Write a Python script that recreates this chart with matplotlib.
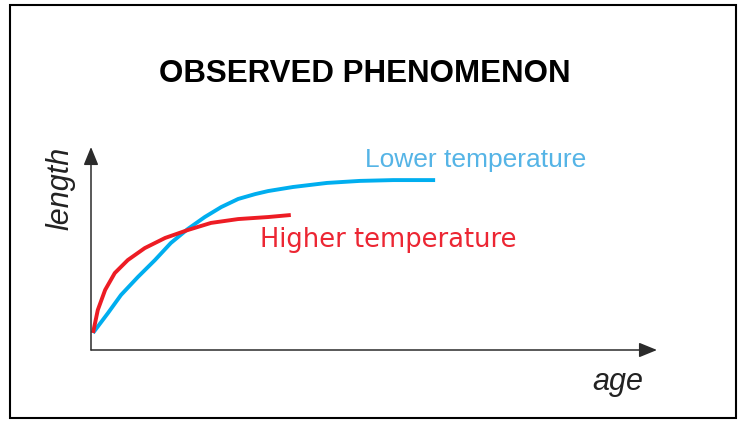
#!/usr/bin/env python3
"""Schematic: length vs age at two temperatures (observed phenomenon)."""

import matplotlib.pyplot as plt
from matplotlib.patches import Rectangle

# Curves, age and length on a 0-100 scale.
lower_age = [0.35, 3.0, 5.3, 8.3, 11.3, 14.1, 17.1, 20.1, 23.0, 26.0, 29.0,
             31.3, 35.7, 41.7, 47.5, 53.4, 60.8]
lower_len = [8.4, 18.2, 27.1, 36.0, 44.3, 52.7, 59.6, 65.5, 70.4, 74.4, 76.8,
             78.3, 80.3, 82.3, 83.3, 83.7, 83.7]

higher_age = [0.35, 1.2, 2.5, 4.2, 6.5, 9.5, 13.1, 17.1, 21.2, 26.0, 31.3, 35.3]
higher_len = [8.4, 19.7, 29.6, 37.9, 44.3, 50.2, 55.2, 59.1, 62.6, 64.5, 65.5, 66.5]

title = "OBSERVED PHENOMENON"
lower_label = "Lower temperature"
higher_label = "Higher temperature"

W, H = 745, 421
fig = plt.figure(figsize=(W / 100, H / 100), dpi=100)

# Outer frame around the whole picture.
fig.patches.append(Rectangle((10 / W, 3 / H), 726 / W, 413 / H, transform=fig.transFigure,
                             fill=False, edgecolor="black", linewidth=1.5))

ax = fig.add_axes([91 / W, 71 / H, 566 / W, 203 / H])
ax.set_xlim(0, 100)
ax.set_ylim(0, 100)
ax.axis("off")

# Axis arrows.
arrow = dict(arrowstyle="-|>,head_length=1.1,head_width=0.45", mutation_scale=10,
             lw=1.1, color="#2b2b2b", shrinkA=0, shrinkB=0)
ax.annotate("", xy=(1, 0), xytext=(0, 0), xycoords="axes fraction", arrowprops=arrow)
ax.annotate("", xy=(0, 1), xytext=(0, 0), xycoords="axes fraction", arrowprops=arrow)

ax.plot(lower_age, lower_len, color="#00aeef", lw=2.8, solid_capstyle="butt",
        solid_joinstyle="round", clip_on=False)
ax.plot(higher_age, higher_len, color="#ed1c24", lw=2.8, solid_capstyle="butt",
        solid_joinstyle="round", clip_on=False)

fig.text(365 / W, (H - 82.5) / H, title, ha="center", va="baseline",
         family="Liberation Sans", weight="bold", fontsize=22.5)
fig.text(365 / W, (H - 167) / H, lower_label, ha="left", va="baseline",
         family="Liberation Sans", fontsize=19, color="#55b4e6")
fig.text(260 / W, (H - 247) / H, higher_label, ha="left", va="baseline",
         family="DejaVu Sans", fontsize=18.5, color="#ec2633")
fig.text(61 / W, (H - 188) / H, "length", rotation=90, ha="center", va="center",
         family="Liberation Sans", style="italic", fontsize=22, color="#222222")
fig.text(618 / W, (H - 390) / H, "age", ha="center", va="baseline",
         family="Liberation Sans", style="italic", fontsize=22, color="#222222")

fig.savefig("out.png", dpi=100)
